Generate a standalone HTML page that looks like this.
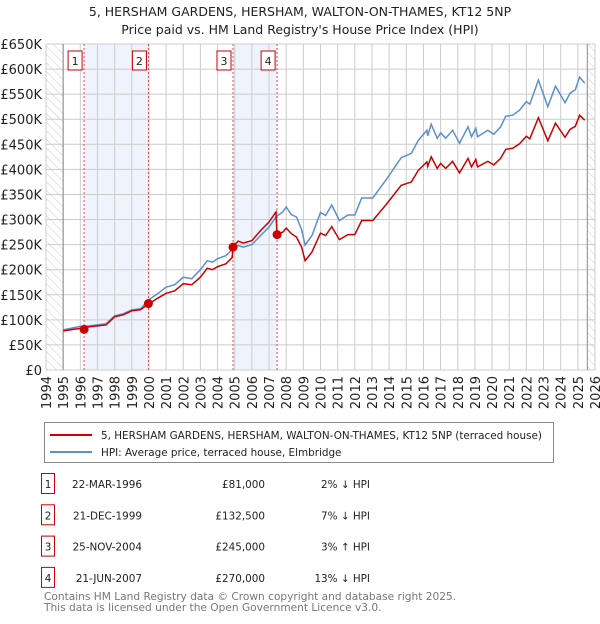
<!DOCTYPE html>
<html><head><meta charset="utf-8"><style>
body{margin:0;background:#fff;font-family:"DejaVu Sans","Liberation Sans",sans-serif;}
svg text{font-family:"DejaVu Sans","Liberation Sans",sans-serif;}
</style></head><body>
<svg id="c" width="600" height="620" viewBox="0 0 600 620" xmlns="http://www.w3.org/2000/svg">
<defs><pattern id="hatch" width="6" height="6" patternUnits="userSpaceOnUse" patternTransform="rotate(-45)"><line x1="0" y1="0" x2="0" y2="6" stroke="#ccc" stroke-width="1"/></pattern></defs>
<text x="300" y="16" text-anchor="middle" font-size="12.5" fill="#222">5, HERSHAM GARDENS, HERSHAM, WALTON-ON-THAMES, KT12 5NP</text>
<text x="300" y="34" text-anchor="middle" font-size="12.5" fill="#222">Price paid vs. HM Land Registry's House Price Index (HPI)</text>
<g id="plot"></g>
<g>
<rect x="44.5" y="422.5" width="509" height="40" fill="#fff" stroke="#888"/>
<line x1="50" y1="435" x2="92" y2="435" stroke="#cc0000" stroke-width="2"/>
<text x="101" y="439" font-size="10.4" fill="#222">5, HERSHAM GARDENS, HERSHAM, WALTON-ON-THAMES, KT12 5NP (terraced house)</text>
<line x1="50" y1="452" x2="92" y2="452" stroke="#5b8fd0" stroke-width="2"/>
<text x="101" y="456" font-size="10.4" fill="#222">HPI: Average price, terraced house, Elmbridge</text>
</g>
<g id="table" font-size="10.4" fill="#222"></g>
<text x="44" y="600" font-size="10.6" fill="#777">Contains HM Land Registry data © Crown copyright and database right 2025.</text>
<text x="44" y="611" font-size="10.6" fill="#777">This data is licensed under the Open Government Licence v3.0.</text>
</svg>
<script>
const years=[1995.0,1996.0,1996.5,1997.0,1997.5,1998.0,1998.5,1999.0,1999.5,2000.0,2000.5,2001.0,2001.5,2002.0,2002.5,2003.0,2003.4,2003.7,2004.0,2004.5,2004.85,2004.9,2005.2,2005.5,2006.0,2006.5,2007.0,2007.4,2007.47,2007.8,2008.0,2008.3,2008.6,2008.9,2009.1,2009.5,2010.0,2010.3,2010.65,2011.1,2011.6,2012.0,2012.4,2013.05,2013.9,2014.7,2015.3,2015.7,2016.2,2016.25,2016.45,2016.8,2017.0,2017.3,2017.7,2018.1,2018.6,2018.8,2019.05,2019.15,2019.75,2020.1,2020.5,2020.8,2021.2,2021.6,2022.0,2022.2,2022.7,2023.25,2023.7,2024.25,2024.55,2024.85,2025.1,2025.4];
const hpiValues=[80,87,88,90,92,108,112,120,122,140,152,165,170,185,182,200,218,215,222,228,240,241,248,245,250,268,285,305,307,315,325,310,305,280,249,268,314,308,329,298,309,309,343,343,383,423,432,458,478,467,490,462,473,462,478,452,485,465,482,465,478,470,485,506,508,518,535,530,578,525,566,533,552,559,584,572];
const priceValues=[78,83,86,88,90,106,110,118,120,132,143,153,158,172,170,185,203,200,206,212,224,246,257,253,258,278,295,315,270,275,283,272,265,245,218,235,273,268,286,260,270,270,298,298,333,368,375,398,415,406,425,402,412,402,416,393,422,405,420,405,416,409,422,440,442,451,466,461,503,457,492,464,480,486,508,498];
const saleYears=[1996.22,1999.97,2004.9,2007.47];
const salePrices=[81,132.5,245,270];
const saleLabels=["1","2","3","4"];
const saleDates=["22-MAR-1996","21-DEC-1999","25-NOV-2004","21-JUN-2007"];
const salePriceText=["£81,000","£132,500","£245,000","£270,000"];
const saleHpiText=["2% ↓ HPI","7% ↓ HPI","3% ↑ HPI","13% ↓ HPI"];
const yTicks=[0,50,100,150,200,250,300,350,400,450,500,550,600,650];
const yTickLabels=["£0","£50K","£100K","£150K","£200K","£250K","£300K","£350K","£400K","£450K","£500K","£550K","£600K","£650K"];
const xTicks=[1994,1995,1996,1997,1998,1999,2000,2001,2002,2003,2004,2005,2006,2007,2008,2009,2010,2011,2012,2013,2014,2015,2016,2017,2018,2019,2020,2021,2022,2023,2024,2025,2026];

const X0=46,X1=595,Y0=370,Y1=44;
const x=v=>X0+(v-1994)/32*(X1-X0);
const y=v=>Y0-v/650*(Y0-Y1);
const NS="http://www.w3.org/2000/svg";
const plot=document.getElementById('plot');
function mk(tag,attrs,parent){const e=document.createElementNS(NS,tag);for(const k in attrs)e.setAttribute(k,attrs[k]);(parent||plot).appendChild(e);return e;}

let h1=mk('rect',{x:X0,y:Y1,width:x(1995)-X0,height:Y0-Y1,fill:'url(#hatch)'});


let h2=mk('rect',{x:x(2025.55),y:Y1,width:X1-x(2025.55),height:Y0-Y1,fill:'url(#hatch)'});


for(let i=0;i<4;i+=2){
  const b=mk('rect',{x:x(saleYears[i]),y:Y1,width:x(saleYears[i+1])-x(saleYears[i]),height:Y0-Y1,fill:'#eef3fc'});
  
  
}
xTicks.forEach(t=>{
  const l=mk('line',{x1:x(t),x2:x(t),y1:Y1,y2:Y0,stroke:'#ccc','stroke-width':1});
  
  
  const tx=mk('text',{x:0,y:0,'font-size':13,fill:'#222','text-anchor':'end',transform:`translate(${x(t)+5},${Y0+6}) rotate(-90)`});
  tx.textContent=t;
  
  
});
yTicks.forEach((t,i)=>{
  const l=mk('line',{x1:X0,x2:X1,y1:y(t),y2:y(t),stroke:'#ccc','stroke-width':1});
  
  
  const tx=mk('text',{x:X0-4,y:y(t)+5,'font-size':13,fill:'#222','text-anchor':'end'});
  tx.textContent=yTickLabels[i];
  
  
});
let ax1=mk('line',{x1:x(1995),x2:x(1995),y1:Y1,y2:Y0,stroke:'#888'});


let ax2=mk('line',{x1:x(2025.55),x2:x(2025.55),y1:Y1,y2:Y0,stroke:'#888'});


saleYears.forEach(s=>{
  const l=mk('line',{x1:x(s),x2:x(s),y1:Y1,y2:Y0,stroke:'#e05050','stroke-dasharray':'2,2','stroke-width':1});
  
  
});
const pts=v=>years.map((t,i)=>x(t).toFixed(1)+','+y(v[i]).toFixed(1)).join(' ');
let hp=mk('polyline',{points:pts(hpiValues),fill:'none',stroke:'#5b8fd0','stroke-width':1.5});


let pp=mk('polyline',{points:pts(priceValues),fill:'none',stroke:'#cc0000','stroke-width':1.5});


saleYears.forEach((s,i)=>{
  const c=mk('circle',{cx:x(s),cy:y(salePrices[i]),r:4.5,fill:'#cc0000'});
  
  
  const r=mk('rect',{x:x(s)-16,y:51,width:14,height:19,fill:'#fff',stroke:'#cc0000'});
  
  
  const tx=mk('text',{x:x(s)-9,y:65,'font-size':11,fill:'#222','text-anchor':'middle'});
  tx.textContent=saleLabels[i];
  
  
});
const tb=document.getElementById('table');
saleLabels.forEach((lab,i)=>{
  const cy=486+i*31.3;
  const r=mk('rect',{x:41.5,y:cy-12.5,width:13,height:20,fill:'#fff',stroke:'#cc0000'},tb);
  
  
  const cells=[[48,lab,'middle'],[142,saleDates[i],'end'],[265,salePriceText[i],'end'],[370,saleHpiText[i],'end']];
  cells.forEach(([cx,txt,an],j)=>{
    const t=mk('text',{x:cx,y:cy+2,'text-anchor':an},tb);
    t.textContent=txt;
    
    
  });
});
</script>
</body></html>
